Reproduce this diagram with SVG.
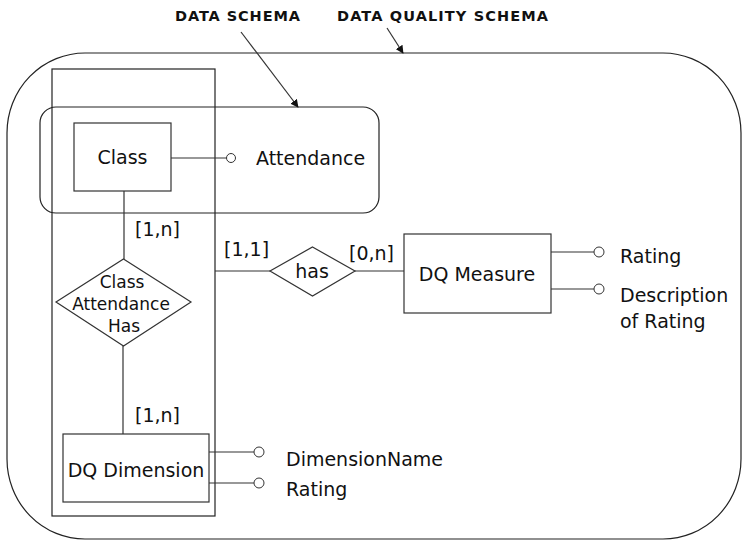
<svg xmlns="http://www.w3.org/2000/svg" width="742" height="541" viewBox="0 0 742 541">
<defs>
<marker id="arrow" viewBox="0 0 10 10" refX="9" refY="5" markerWidth="8" markerHeight="8" markerUnits="userSpaceOnUse" orient="auto">
<path d="M0,0 L10,5 L0,10 z" fill="#111"/>
</marker>
<style>
.b{fill:none;stroke:#222;stroke-width:1.2}
.e{fill:#fff;stroke:#333;stroke-width:1.2}
.c{fill:#fff;stroke:#333;stroke-width:1}
.l{fill:none;stroke:#333;stroke-width:1.2}
.t{font-family:"DejaVu Sans",sans-serif;font-size:19px;fill:#111}
.s{font-family:"DejaVu Sans",sans-serif;font-size:17px;fill:#111}
.h{font-family:"DejaVu Sans",sans-serif;font-size:14.5px;font-weight:bold;fill:#111}
.m{text-anchor:middle}
</style>
</defs>
<rect width="742" height="541" fill="#fff"/>
<g id="dq-schema">
<rect class="b" x="7" y="53" width="734" height="486" rx="78" ry="80"/>
</g>
<g id="dq-column">
<rect class="b" x="52" y="69" width="163" height="447"/>
</g>
<g id="data-schema">
<rect class="b" x="40" y="107" width="339" height="106" rx="16" ry="16"/>
</g>
<g id="titles">
<text class="h" x="175" y="21" textLength="125">DATA SCHEMA</text>
<text class="h" x="337" y="21" textLength="211">DATA QUALITY SCHEMA</text>
</g>
<g id="connectors">
<line class="l" x1="241" y1="32" x2="298" y2="107" marker-end="url(#arrow)"/>
<line class="l" x1="387" y1="28" x2="403" y2="53" marker-end="url(#arrow)"/>
<line class="l" x1="124" y1="191" x2="124" y2="259"/>
<line class="l" x1="123" y1="346" x2="123" y2="434"/>
<line class="l" x1="215" y1="271" x2="270" y2="271"/>
<line class="l" x1="355" y1="271" x2="404" y2="271"/>
<line class="l" x1="171" y1="158" x2="227" y2="158"/>
<line class="l" x1="209" y1="452" x2="254" y2="452"/>
<line class="l" x1="209" y1="483" x2="254" y2="483"/>
<line class="l" x1="551" y1="252" x2="594" y2="252"/>
<line class="l" x1="551" y1="289" x2="594" y2="289"/>
<text class="t" x="135" y="236">[1,n]</text>
<text class="t" x="135" y="422">[1,n]</text>
<text class="t" x="224" y="256">[1,1]</text>
<text class="t" x="349" y="260">[0,n]</text>
</g>
<g id="class">
<rect class="e" x="74" y="123" width="97" height="68"/>
<text class="t m" x="122.5" y="164">Class</text>
</g>
<g id="attendance">
<circle class="c" cx="231" cy="158" r="4.5"/>
<text class="t" x="256" y="165">Attendance</text>
</g>
<g id="class-attendance-has">
<polygon class="e" points="123.5,259 191,302 123.5,346 56,302"/>
<text class="s m" x="122" y="288">Class</text>
<text class="s m" x="121" y="310">Attendance</text>
<text class="s m" x="124" y="332">Has</text>
</g>
<g id="dq-dimension">
<rect class="e" x="63" y="434" width="146" height="68"/>
<text class="t m" x="136" y="477">DQ Dimension</text>
</g>
<g id="dimension-name">
<circle class="c" cx="259" cy="452" r="5"/>
<text class="t" x="286" y="466">DimensionName</text>
</g>
<g id="dimension-rating">
<circle class="c" cx="259" cy="483" r="5"/>
<text class="t" x="286" y="496">Rating</text>
</g>
<g id="has">
<polygon class="e" points="312.5,247 355,271 312.5,296 270,271"/>
<text class="t m" x="312" y="278">has</text>
</g>
<g id="dq-measure">
<rect class="e" x="404" y="234" width="147" height="79"/>
<text class="t m" x="477" y="281">DQ Measure</text>
</g>
<g id="measure-rating">
<circle class="c" cx="599" cy="252" r="5"/>
<text class="t" x="620" y="263">Rating</text>
</g>
<g id="description-of-rating">
<circle class="c" cx="599" cy="289" r="5"/>
<text class="t" x="620" y="302">Description</text>
<text class="t" x="620" y="328">of Rating</text>
</g>
</svg>
